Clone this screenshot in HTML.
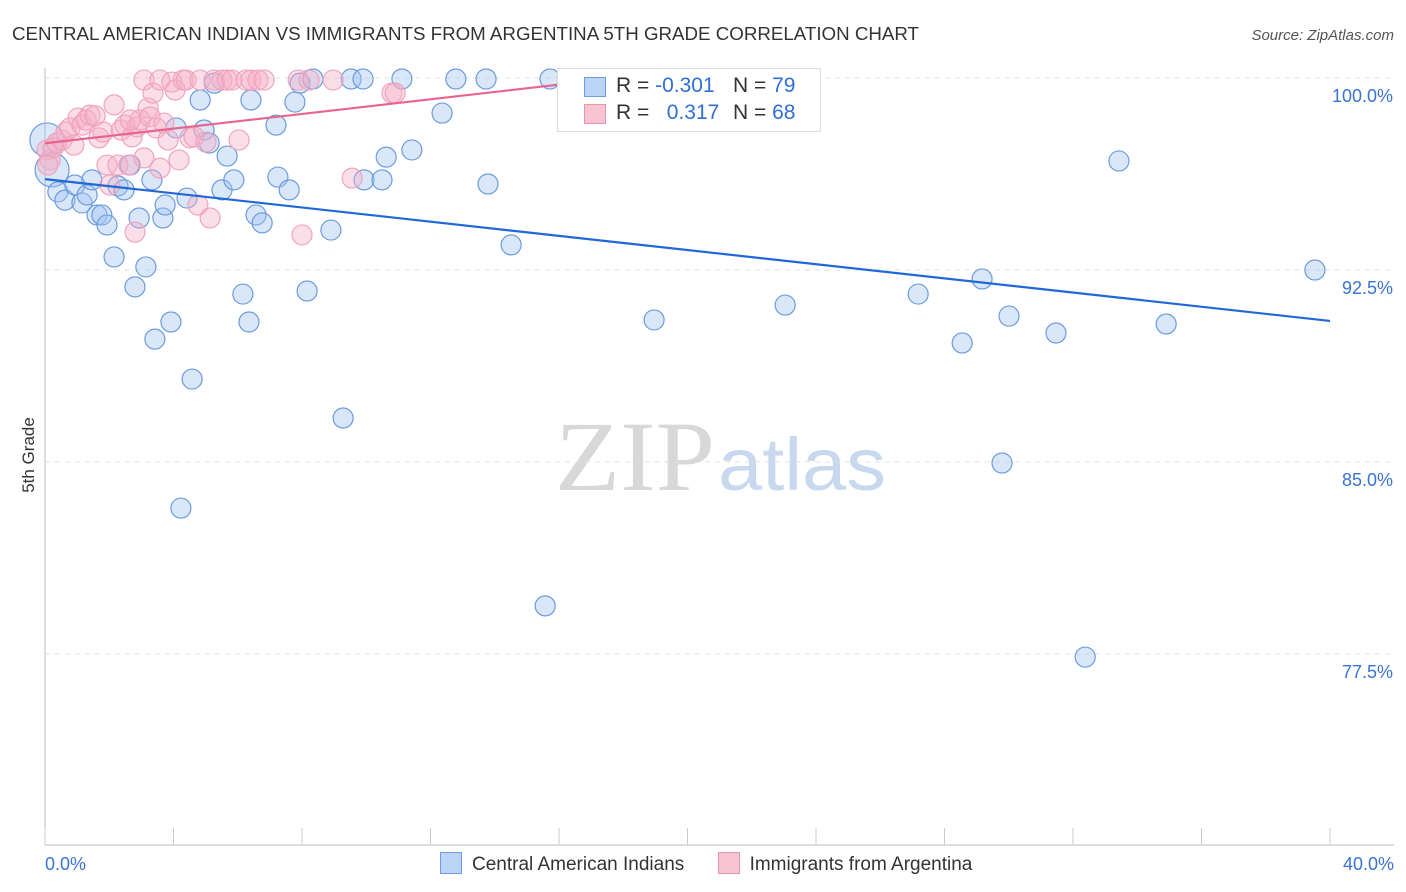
<!DOCTYPE html>
<html><head><meta charset="utf-8"><style>
body{margin:0;background:#fff;font-family:"Liberation Sans",sans-serif;}
#wrap{position:relative;width:1406px;height:892px;overflow:hidden}
</style></head><body>
<div id="wrap">
<svg id="svg" width="1406" height="892" xmlns="http://www.w3.org/2000/svg">
<text x="12" y="40" font-size="18" fill="#333" textLength="907" lengthAdjust="spacingAndGlyphs">CENTRAL AMERICAN INDIAN VS IMMIGRANTS FROM ARGENTINA 5TH GRADE CORRELATION CHART</text>
<text x="1394" y="40" font-size="15" fill="#555" font-style="italic" text-anchor="end">Source: ZipAtlas.com</text>
<text x="34" y="455" font-size="17" fill="#333" text-anchor="middle" transform="rotate(-90 34 455)">5th Grade</text>
<text x="555" y="490" font-size="100" fill="#d8d8d8" textLength="160" lengthAdjust="spacingAndGlyphs" font-family="Liberation Serif,serif">ZIP</text>
<text x="718" y="490" font-size="74" fill="#c8d8ee" textLength="168" lengthAdjust="spacingAndGlyphs">atlas</text>
<g id="grid"></g><g id="marks"></g><g id="trend"></g>
</svg>
<div style="position:absolute;left:557px;top:68px;width:262px;height:62px;border:1px solid #ddd;background:#fff;font-size:21px">
<div style="position:absolute;left:26px;top:8px;width:20px;height:18px;background:#bcd4f5;border:1px solid #6a9ee0"></div>
<div style="position:absolute;left:26px;top:35px;width:20px;height:18px;background:#f8c3d3;border:1px solid #e896b0"></div>
<div style="position:absolute;left:58px;top:5px;color:#333">R = <span style="color:#2f6fd6">-0.301</span></div>
<div style="position:absolute;left:175px;top:5px;color:#333">N = <span style="color:#2f6fd6">79</span></div>
<div style="position:absolute;left:58px;top:32px;color:#333">R = &nbsp;&nbsp;<span style="color:#2f6fd6">0.317</span></div>
<div style="position:absolute;left:175px;top:32px;color:#333">N = <span style="color:#2f6fd6">68</span></div>
</div>
<div style="position:absolute;left:440px;top:852px;font-size:19px;color:#333">
<span><span style="display:inline-block;width:20px;height:20px;background:#bcd4f5;border:1px solid #6a9ee0;vertical-align:-4px;margin-right:10px"></span>Central American Indians</span>
<span style="margin-left:28px"><span style="display:inline-block;width:20px;height:20px;background:#f8c3d3;border:1px solid #e896b0;vertical-align:-4px;margin-right:10px"></span>Immigrants from Argentina</span>
</div>
</div>
<script>
const yTicks=[100,92.5,85,77.5];
const yTickLabels=["100.0%","92.5%","85.0%","77.5%"];
const xTickLabels=["0.0%","40.0%"];
const blueX=[0.06,0.22,0.40,0.62,0.93,1.15,1.31,1.46,1.62,1.77,1.93,2.15,2.27,2.46,2.65,2.80,2.93,3.14,3.33,3.42,3.67,3.74,3.92,4.08,4.23,4.42,4.58,4.83,4.95,5.11,5.27,5.51,5.67,5.88,6.16,6.35,6.41,6.57,6.76,7.19,7.25,7.60,7.78,7.94,8.16,8.34,8.90,9.28,9.53,9.90,9.93,10.49,10.62,11.11,11.42,12.36,12.79,13.73,13.79,14.51,15.57,15.72,17.43,18.18,18.96,22.26,23.04,27.18,28.55,29.17,29.79,30.01,31.47,32.38,33.43,34.90,39.53];
const blueY=[97.58,96.41,95.55,95.23,95.82,95.12,95.43,96.02,94.65,94.65,94.26,93.01,95.78,95.63,96.60,91.84,94.53,92.62,96.02,89.80,94.53,95.04,90.47,98.05,83.20,95.31,88.24,99.14,97.97,97.46,99.80,95.63,96.95,96.02,91.56,90.47,99.14,94.65,94.34,98.16,96.13,95.63,99.06,99.80,91.68,99.96,94.06,86.72,99.96,99.96,96.02,96.02,96.91,99.96,97.19,98.63,99.96,99.96,95.86,93.48,79.38,99.96,99.96,99.96,90.55,99.96,91.13,91.56,89.65,92.15,84.96,90.70,90.04,77.38,96.76,90.39,92.50];
const pinkX=[0.06,0.16,0.25,0.37,0.53,0.65,0.78,0.90,1.03,1.15,1.28,1.40,1.56,1.68,1.81,1.93,2.02,2.15,2.27,2.37,2.49,2.61,2.71,2.86,2.96,3.08,3.08,3.21,3.27,3.36,3.46,3.58,3.70,3.83,3.95,4.05,4.17,4.30,4.39,4.51,4.64,4.76,4.83,5.01,5.14,5.26,5.51,5.67,5.82,6.04,6.26,6.41,6.63,6.82,7.88,8.00,8.22,8.97,9.56,10.80,10.90,0.09,2.80,3.58,2.65];
const pinkY=[97.19,96.80,97.27,97.46,97.58,97.89,98.05,97.38,98.44,98.16,98.36,98.55,98.52,97.66,97.89,96.60,95.82,98.95,96.60,97.97,98.16,96.60,97.70,98.09,98.36,96.88,99.92,98.83,98.48,99.41,98.05,99.92,98.24,97.58,99.84,99.53,96.80,99.92,99.92,97.66,97.70,95.04,99.92,97.50,94.53,99.92,99.92,99.92,99.92,97.58,99.92,99.92,99.92,99.92,99.92,93.87,99.92,99.92,96.09,99.41,99.41,96.60,93.98,96.48,98.36];
const blueTrendX=[0,40];const blueTrendY=[96.05,90.51];
const pinkTrendX=[0,17.8];const pinkTrendY=[97.45,100];
const NS="http://www.w3.org/2000/svg";
const X=v=>45+v/40*1285, Y=v=>78+(100-v)*25.6;
function mk(t,a,p){const e=document.createElementNS(NS,t);for(const k in a)e.setAttribute(k,a[k]);p.appendChild(e);return e;}
const g=document.getElementById('grid'),m=document.getElementById('marks'),tr=document.getElementById('trend');
let ax=mk('line',{x1:45,y1:68,x2:45,y2:845,stroke:'#bbb'},g);


let xa=mk('line',{x1:45,y1:845,x2:1394,y2:845,stroke:'#bbb'},g);


for(let i=0;i<=10;i++){const t=mk('line',{x1:X(i*4),y1:828,x2:X(i*4),y2:845,stroke:'#ccc'},g);

}
yTicks.forEach((v,i)=>{const l=mk('line',{x1:45,y1:Y(v),x2:1394,y2:Y(v),stroke:'#e0e0e0','stroke-dasharray':'5,5'},g);


const t=mk('text',{x:1393,y:Y(v)+24,'font-size':18,fill:'#3b73d4','text-anchor':'end'},g);t.textContent=yTickLabels[i];

});
[[0,'start',45],[40,'end',1394]].forEach((a,i)=>{const t=mk('text',{x:a[2],y:870,'font-size':18,fill:'#3b73d4','text-anchor':a[1]},g);t.textContent=xTickLabels[i];

});
blueX.forEach((x,i)=>{const r=i<2?17:10;const c=mk('circle',{cx:X(x),cy:Y(blueY[i]),r:r,fill:'rgba(160,196,240,0.4)',stroke:'#6b9be0','stroke-width':1.2},m);

});
pinkX.forEach((x,i)=>{const c=mk('circle',{cx:X(x),cy:Y(pinkY[i]),r:10,fill:'rgba(245,175,198,0.4)',stroke:'#f0a3bc','stroke-width':1.2},m);

});
let bl=mk('line',{x1:X(blueTrendX[0]),y1:Y(blueTrendY[0]),x2:X(blueTrendX[1]),y2:Y(blueTrendY[1]),stroke:'#2068d6','stroke-width':2.2},tr);


let pl=mk('line',{x1:X(pinkTrendX[0]),y1:Y(pinkTrendY[0]),x2:X(pinkTrendX[1]),y2:Y(pinkTrendY[1]),stroke:'#e8648d','stroke-width':2.2},tr);


</script>
</body></html>
